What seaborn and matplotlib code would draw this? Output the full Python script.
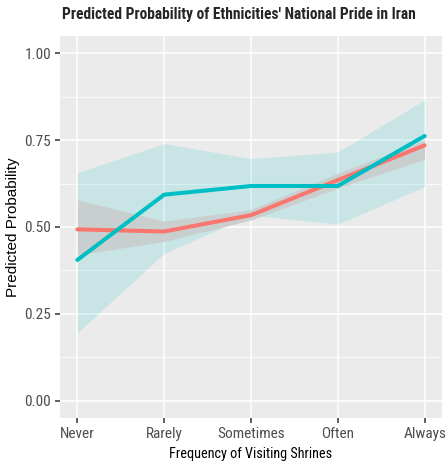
import matplotlib
matplotlib.use("Agg")
import matplotlib.pyplot as plt
import seaborn as sns
import pandas as pd
import numpy as np
from matplotlib.ticker import FixedLocator
from matplotlib import font_manager

categories = ["Never", "Rarely", "Sometimes", "Often", "Always"]
groups = ["A", "B"]
red_fit = [0.493, 0.487, 0.534, 0.635, 0.735]
red_low = [0.420, 0.458, 0.520, 0.612, 0.695]
red_high = [0.578, 0.517, 0.550, 0.655, 0.750]
teal_fit = [0.405, 0.593, 0.618, 0.618, 0.762]
teal_low = [0.195, 0.424, 0.534, 0.508, 0.616]
teal_high = [0.656, 0.740, 0.697, 0.716, 0.866]
y_ticks = [0.00, 0.25, 0.50, 0.75, 1.00]
y_tick_labels = ["0.00", "0.25", "0.50", "0.75", "1.00"]

RED = "#F8766D"
TEAL = "#00BFC4"

sns.set_theme(style="darkgrid")
names = {f.name for f in font_manager.fontManager.ttflist}
cond = [n for n in ["Liberation Sans Narrow", "DejaVu Sans Condensed", "Roboto Condensed",
                    "Open Sans Condensed"] if n in names]
base = cond + ["DejaVu Sans"]
plt.rcParams["font.family"] = base
plt.rcParams["font.stretch"] = "condensed"

xpos = np.arange(1, len(categories) + 1)
df = pd.DataFrame({
    "x": np.concatenate([xpos, xpos]),
    "y": red_fit + teal_fit,
    "g": [groups[0]] * 5 + [groups[1]] * 5,
})

fig = plt.figure(figsize=(4.46, 4.67), dpi=100)
ax = fig.add_axes([0.1345, 0.105, 0.8565, 0.818])
ax.set_facecolor("#EBEBEB")

ax.fill_between(xpos, teal_low, teal_high, color=TEAL, alpha=0.14, linewidth=0, zorder=2)
ax.fill_between(xpos, red_low, red_high, color="#C9CBCB", alpha=0.85, linewidth=0, zorder=3)

sns.lineplot(data=df, x="x", y="y", hue="g", hue_order=["A", "B"],
             palette={"A": RED, "B": TEAL}, linewidth=2.9, legend=False, ax=ax,
             zorder=4)
lines = ax.get_lines()
if len(lines) >= 2:
    lines[1].set_zorder(5)

ax.set_xlim(0.8, 5.2)
ax.set_ylim(-0.05, 1.05)
ax.set_xticks(xpos)
ax.set_xticklabels(categories)
ax.set_yticks(y_ticks)
ax.set_yticklabels(y_tick_labels)
ax.yaxis.set_minor_locator(FixedLocator([0.125, 0.375, 0.625, 0.875]))
ax.grid(which="major", color="white", linewidth=1.1)
ax.grid(which="minor", color="white", linewidth=0.55)
ax.set_axisbelow(True)
for s in ax.spines.values():
    s.set_visible(False)

ax.tick_params(axis="both", which="major", length=3.5, width=1.1, color="#333333",
               labelcolor="#4D4D4D", labelsize=11, pad=3, bottom=True, left=True)
ax.tick_params(axis="both", which="minor", length=0)

ax.set_xlabel("Frequency of Visiting Shrines", fontsize=10.3, color="black", labelpad=4.5)
ax.set_ylabel("Predicted Probability", fontsize=11, color="black", labelpad=3,
              family=["Liberation Sans", "DejaVu Sans"], stretch="normal")
fig.suptitle("Predicted Probability of Ethnicities' National Pride in Iran",
             x=0.535, y=0.985, fontsize=11.2, fontweight="bold")

fig.savefig("out.png", dpi=100)
